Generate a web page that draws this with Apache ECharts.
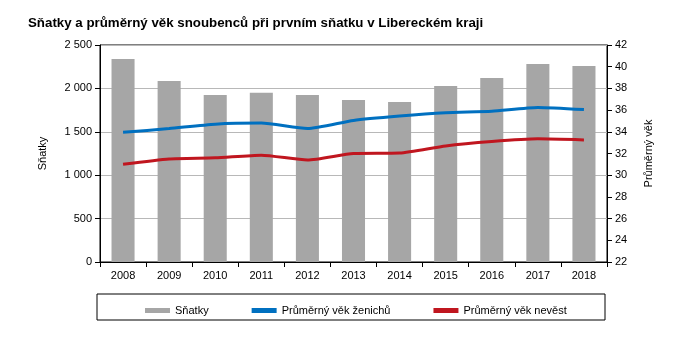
<!DOCTYPE html>
<html>
<head>
<meta charset="utf-8">
<script src="https://cdn.jsdelivr.net/npm/echarts@6/dist/echarts.min.js"></script>
<style>
html,body{margin:0;padding:0;background:#fff;}
#c{width:682px;height:339px;}
</style>
</head>
<body>
<div id="c"></div>
<script>
var years = ['2008','2009','2010','2011','2012','2013','2014','2015','2016','2017','2018'];
var marriages = [2340, 2085, 1924, 1950, 1924, 1866, 1843, 2028, 2120, 2281, 2258];
var groomAge = [33.95, 34.3, 34.7, 34.8, 34.3, 35.05, 35.45, 35.75, 35.9, 36.25, 36.05];
var brideAge = [31.0, 31.5, 31.6, 31.85, 31.4, 32.0, 32.05, 32.7, 33.1, 33.35, 33.25];
var titleText = 'Sňatky a průměrný věk snoubenců při prvním sňatku v Libereckém kraji';
var seriesNames = ['Sňatky', 'Průměrný věk ženichů', 'Průměrný věk nevěst'];

var font = 'Liberation Sans, Arial, sans-serif';
var chart = echarts.init(document.getElementById('c'));
chart.setOption({
  animation: false,
  textStyle: {fontFamily: font},
  title: {
    text: titleText, left: 23, top: 12,
    textStyle: {fontFamily: font, fontSize: 13.3, fontWeight: 'bold', color: '#000'}
  },
  grid: {left: 100, right: 75, top: 45, bottom: 77, show: true, borderColor: '#000', borderWidth: 1},
  graphic: [{
    type: 'rect', shape: {x: 97, y: 294, width: 508, height: 26},
    style: {fill: 'none', stroke: '#000', lineWidth: 1}
  }],
  legend: {
    left: 140, top: 300, itemWidth: 25, itemHeight: 5, itemGap: 43,
    icon: 'rect',
    textStyle: {fontFamily: font, fontSize: 11, color: '#000'},
    data: seriesNames
  },
  xAxis: {
    type: 'category', data: years, boundaryGap: true,
    axisLine: {lineStyle: {color: '#000'}},
    axisTick: {show: true, length: 5, alignWithLabel: false, lineStyle: {color: '#000'}},
    axisLabel: {color: '#000', fontSize: 11, margin: 8, fontFamily: font}
  },
  yAxis: [{
    type: 'value', min: 0, max: 2500, interval: 500,
    name: 'Sňatky', nameLocation: 'middle', nameGap: 52, nameRotate: 90,
    nameTextStyle: {color: '#000', fontSize: 11, fontFamily: font},
    axisLine: {show: true, lineStyle: {color: '#000'}},
    axisTick: {show: true, length: 5, lineStyle: {color: '#000'}},
    axisLabel: {color: '#000', fontSize: 11, fontFamily: font,
      formatter: function(v){ return String(v).replace(/\B(?=(\d{3})+(?!\d))/g, ' '); }},
    splitLine: {show: true, lineStyle: {color: '#b8b8b8', width: 1}}
  }, {
    type: 'value', min: 22, max: 42, interval: 2, position: 'right',
    name: 'Průměrný věk', nameLocation: 'middle', nameGap: 36, nameRotate: 90,
    nameTextStyle: {color: '#000', fontSize: 11, fontFamily: font},
    axisLine: {show: true, lineStyle: {color: '#000'}},
    axisTick: {show: true, length: 5, lineStyle: {color: '#000'}},
    axisLabel: {color: '#000', fontSize: 11, fontFamily: font},
    splitLine: {show: false}
  }],
  series: [{
    name: seriesNames[0], type: 'bar', data: marriages, barWidth: '50%',
    itemStyle: {color: '#a6a6a6'}
  }, {
    name: seriesNames[1], type: 'line', yAxisIndex: 1, data: groomAge,
    smooth: 0.2, symbol: 'none', lineStyle: {color: '#0070c0', width: 3},
    itemStyle: {color: '#0070c0'}
  }, {
    name: seriesNames[2], type: 'line', yAxisIndex: 1, data: brideAge,
    smooth: 0.2, symbol: 'none', lineStyle: {color: '#c0161f', width: 3},
    itemStyle: {color: '#c0161f'}
  }]
});
</script>
</body>
</html>
